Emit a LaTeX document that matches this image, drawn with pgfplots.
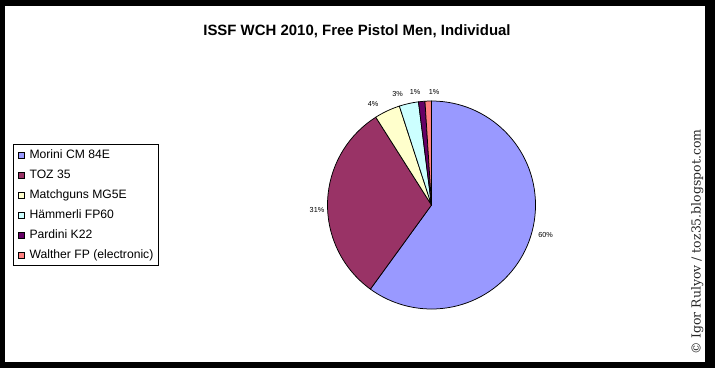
\documentclass[border=0pt]{standalone}
\usepackage{pgfplots}
\pgfplotsset{compat=1.18}
\usepackage{fontspec}
\setmainfont{Liberation Sans}
\newfontfamily\notefont{DejaVu Serif}

\definecolor{morini}{HTML}{9999FF}
\definecolor{toz}{HTML}{993366}
\definecolor{matchguns}{HTML}{FFFFCC}
\definecolor{hammerli}{HTML}{CCFFFF}
\definecolor{pardini}{HTML}{660066}
\definecolor{walther}{HTML}{FF8080}

% Pie centre and radius in axis units (1 unit = 1bp)
\newcommand\cx{431.5}
\newcommand\cy{163}
\newcommand\rad{104}

% #1 start share (%), #2 end share (%), #3 colour, #4 label angle, #5 label distance
\newcommand\pieslice[5]{%
  \draw[fill=#3, line width=0.75bp, line join=round]
    (axis cs:\cx,\cy) -- ++({90-3.6*#1}:\rad bp)
    arc[start angle={90-3.6*#1}, end angle={90-3.6*#2}, radius=\rad bp] -- cycle;
  \path (axis cs:\cx,\cy) ++(#4:#5bp)
    node[font=\fontsize{7.3}{8}\selectfont, inner sep=0pt]
    {\pgfmathparse{int(round(#2-#1))}\pgfmathresult\%};
}

\begin{document}
\begin{tikzpicture}
\begin{axis}[
  x=1bp, y=1bp,
  xmin=0, xmax=715, ymin=0, ymax=368,
  hide axis, clip=false,
  legend image code/.code={%
    \draw[#1, line width=0.6bp] (0bp,-3bp) rectangle (6bp,3bp);
    \path (11bp,0bp);},
  legend cell align=left,
  legend style={
    at={(axis cs:13,224)}, anchor=north west,
    draw=black, line width=0.75bp,
    inner xsep=4.5bp, inner ysep=0.5bp, row sep=0pt,
    font=\fontsize{12.2}{14}\selectfont,
    nodes={inner sep=0pt, text height=14bp, text depth=6bp},
  },
]
% frame
\fill[black] (axis cs:0,0) rectangle (axis cs:715,368);
\fill[white] (axis cs:5,6) rectangle (axis cs:705,362);

% title
\node[font=\bfseries\fontsize{15}{17}\selectfont] at (axis cs:357,337)
  {ISSF WCH 2010, Free Pistol Men, Individual};

% slices, clockwise from twelve o'clock
\pieslice{0}{60}{morini}{-14.7}{118}
\pieslice{60}{91}{toz}{182.5}{114.6}
\pieslice{91}{95}{matchguns}{120}{116.7}
\pieslice{95}{98}{hammerli}{107}{116}
\pieslice{98}{99}{pardini}{98.3}{114}
\pieslice{99}{100}{walther}{88.7}{113}

% credit line
\node[rotate=90, anchor=base west, inner sep=0pt,
      font=\notefont\fontsize{12.5}{14}\selectfont, text=black!85]
  at (axis cs:700.5,13) {© Igor Rulyov / toz35.blogspot.com};

\addlegendimage{draw=black, fill=morini}
\addlegendentry{Morini CM 84E}
\addlegendimage{draw=black, fill=toz}
\addlegendentry{TOZ 35}
\addlegendimage{draw=black, fill=matchguns}
\addlegendentry{Matchguns MG5E}
\addlegendimage{draw=black, fill=hammerli}
\addlegendentry{Hämmerli FP60}
\addlegendimage{draw=black, fill=pardini}
\addlegendentry{Pardini K22}
\addlegendimage{draw=black, fill=walther}
\addlegendentry{Walther FP (electronic)}
\end{axis}
\end{tikzpicture}
\end{document}
